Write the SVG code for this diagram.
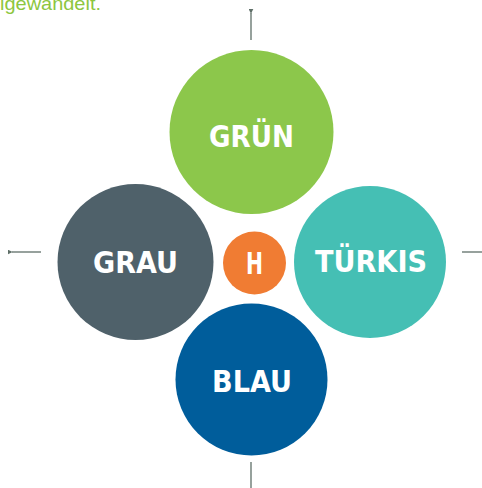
<svg xmlns="http://www.w3.org/2000/svg" width="482" height="488" viewBox="0 0 482 488">
<style>
.lbl{font-family:"DejaVu Sans","Liberation Sans",sans-serif;font-weight:bold;fill:#fff;text-anchor:middle;font-size:30px}
.con{stroke:#5f6f68;stroke-width:1.3;fill:none}
</style>
<defs>
<marker id="ah" viewBox="0 0 8 8" refX="1" refY="4" markerWidth="5" markerHeight="5" orient="auto-start-reverse" markerUnits="userSpaceOnUse">
<path d="M0,4 L8,0 L8,8 Z" fill="#5f6f68"/>
</marker>
</defs>
<text x="0" y="10" font-family="Liberation Sans, sans-serif" font-size="19" fill="#8dc63f" textLength="101" lengthAdjust="spacingAndGlyphs">igewandelt.</text>
<g id="connectors">
<line class="con" x1="251" y1="13" x2="251" y2="40" marker-start="url(#ah)"/>
<line class="con" x1="12" y1="252" x2="41" y2="252" marker-start="url(#ah)"/>
<line class="con" x1="462" y1="252" x2="482" y2="252"/>
<line class="con" x1="251" y1="462" x2="251" y2="488"/>
</g>
<g id="gruen">
<circle cx="251.5" cy="132" r="82" fill="#8cc74b"/>
<text class="lbl" x="251.5" y="147" textLength="85" lengthAdjust="spacingAndGlyphs">GRÜN</text>
</g>
<g id="grau">
<circle cx="135.5" cy="262" r="78" fill="#4f616a"/>
<text class="lbl" x="135.5" y="273" textLength="85" lengthAdjust="spacingAndGlyphs">GRAU</text>
</g>
<g id="tuerkis">
<circle cx="370" cy="262" r="76" fill="#45bfb4"/>
<text class="lbl" x="371" y="272" textLength="112" lengthAdjust="spacingAndGlyphs">TÜRKIS</text>
</g>
<g id="blau">
<circle cx="251.5" cy="379.5" r="76" fill="#005d9b"/>
<text class="lbl" x="252" y="392" textLength="80" lengthAdjust="spacingAndGlyphs">BLAU</text>
</g>
<g id="h">
<circle cx="254.5" cy="263" r="31.5" fill="#f07c33"/>
<text class="lbl" x="254.5" y="274" textLength="17" lengthAdjust="spacingAndGlyphs">H</text>
</g>
</svg>
